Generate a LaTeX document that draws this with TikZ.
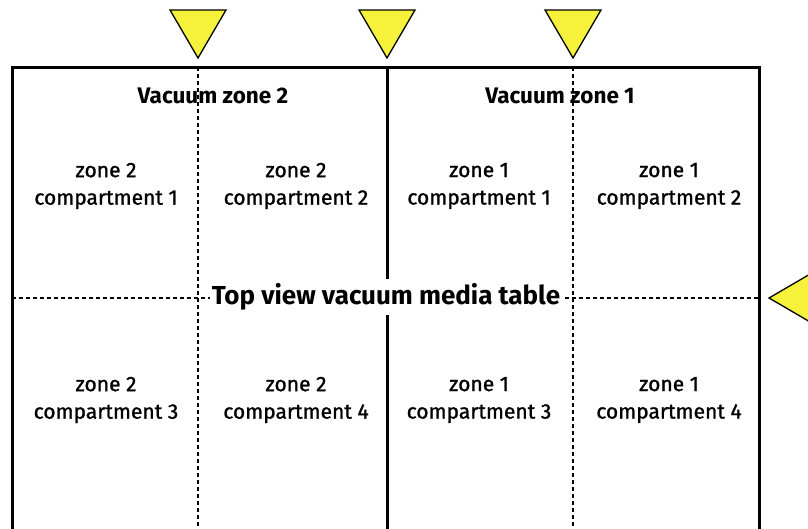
\documentclass[tikz,border=0pt]{standalone}
\usepackage{fontspec}
\setmainfont{Fira Sans}
\begin{document}
\begin{tikzpicture}[x=1pt,y=-1pt,
  thick line/.style={line width=3pt},
  dash line/.style={line width=1.4pt, dash pattern=on 4pt off 3pt},
  tri/.style={draw=black, line width=1.3pt, fill=triyellow, line join=miter},
  comp/.style={font=\fontsize{21}{27.5}\selectfont\addfontfeatures{FakeBold=1.2}, align=center, inner sep=0pt},
  zonelabel/.style={font=\fontsize{22.5}{27}\selectfont\bfseries, inner sep=0pt},
  title/.style={font=\fontsize{26}{30}\selectfont\bfseries, fill=white, inner xsep=2pt, inner ysep=5pt}]
\definecolor{triyellow}{RGB}{246,241,58}
\clip (0,0) rectangle (808,528);
\fill[white] (0,0) rectangle (808,528);
% coordinates
\coordinate (tl) at (12,67);
\coordinate (tr) at (759,67);
\coordinate (bl) at (12,540);
\coordinate (br) at (759,540);
\coordinate (mt) at (387,67);
\coordinate (mb) at (387,540);
\coordinate (d1t) at (198,67);
\coordinate (d1b) at (198,540);
\coordinate (d2t) at (573,67);
\coordinate (d2b) at (573,540);
\coordinate (hl) at (12,298);
\coordinate (hr) at (759,298);
% dashed lines
\draw[dash line] (d1t) -- (d1b);
\draw[dash line] (d2t) -- (d2b);
\draw[dash line] (hl) -- (hr);
% solid lines
\draw[thick line] (mt) -- (mb);
\draw[thick line] (bl) -- (tl) -- (tr) -- (br);
% title
\node[title] (ttl) at (386,297) {Top view vacuum media table};
% zone labels
\node[zonelabel] (vz2) at (213,96) {Vacuum zone 2};
\node[zonelabel] (vz1) at (560,96) {Vacuum zone 1};
% compartments
\node[comp] (c21) at (106,186) {zone 2\\compartment 1};
\node[comp] (c22) at (296,186) {zone 2\\compartment 2};
\node[comp] (c11) at (479,186) {zone 1\\compartment 1};
\node[comp] (c12) at (669,186) {zone 1\\compartment 2};
\node[comp] (c23) at (106,400) {zone 2\\compartment 3};
\node[comp] (c24) at (296,400) {zone 2\\compartment 4};
\node[comp] (c13) at (479,400) {zone 1\\compartment 3};
\node[comp] (c14) at (669,400) {zone 1\\compartment 4};
% triangles
\draw[tri] (170,10) -- (226,10) -- (198,58) -- cycle;
\draw[tri] (359,10) -- (415,10) -- (387,58) -- cycle;
\draw[tri] (545,10) -- (601,10) -- (573,58) -- cycle;
\draw[tri] (817,270) -- (817,326) -- (769,298) -- cycle;
\end{tikzpicture}
\end{document}
